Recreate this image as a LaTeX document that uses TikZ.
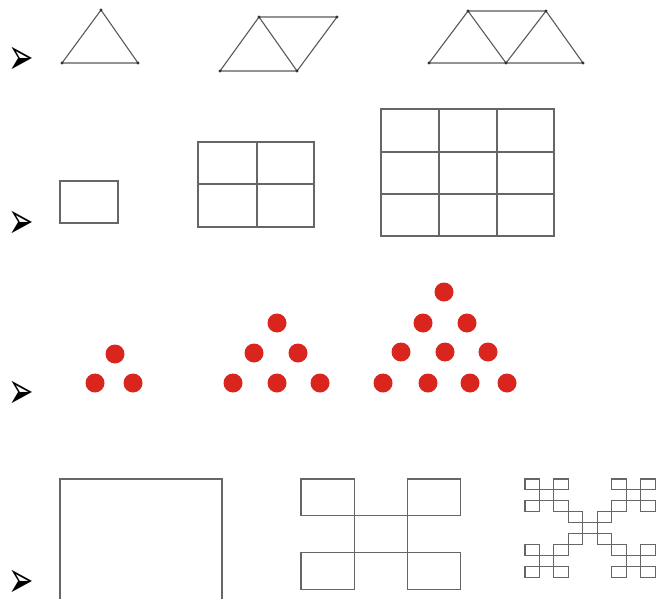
\documentclass[tikz,border=0pt]{standalone}
\usepackage{fontspec}
\newfontfamily\dingfont{DejaVu Sans}
\definecolor{dotred}{RGB}{217,37,30}
\tikzset{
  edge/.style={draw=black!65,line width=1.1pt},
  box/.style={draw=black!60,line width=1.1pt},
  vert/.style={fill=black!80},
  bullet/.style={inner sep=0pt,font=\dingfont\fontsize{32}{32}\selectfont}
}
\newcommand{\arrowmark}{\scalebox{0.95}[1.6]{➢}}

\begin{document}
\begin{tikzpicture}[x=1pt,y=-1pt]
\useasboundingbox (0,0) rectangle (658,599);
% bullets
\node[bullet] (b1) at (21,61) {\arrowmark};
\node[bullet] (b2) at (21,225) {\arrowmark};
\node[bullet] (b3) at (21,395) {\arrowmark};
\node[bullet] (b4) at (21,584) {\arrowmark};
% triangles
\coordinate (a1) at (62,63);  \coordinate (a2) at (101,10); \coordinate (a3) at (138,63);
\draw[edge] (a1) -- (a2) -- (a3) -- cycle;
\coordinate (p1) at (220,71); \coordinate (p2) at (259,17);
\coordinate (p3) at (297,71); \coordinate (p4) at (337,17);
\draw[edge] (p1) -- (p2) -- (p3) -- cycle (p2) -- (p4) -- (p3);
\coordinate (q1) at (429,63); \coordinate (q2) at (468,11); \coordinate (q3) at (506,63);
\coordinate (q4) at (546,11); \coordinate (q5) at (583,63);
\draw[edge] (q1) -- (q2) -- (q3) -- cycle (q2) -- (q4) -- (q3) (q4) -- (q5) -- (q3);
\foreach \v in {a1,a2,a3,p1,p2,p3,p4,q1,q2,q3,q4,q5}
  \fill[vert] (\v) circle (1.7);
% rectangles
\draw[box] (60,181) rectangle (118,223);
\draw[box] (198,142) rectangle (314,227) (257,142) -- (257,227) (198,184) -- (314,184);
\draw[box] (381,109) rectangle (554,236) (439,109) -- (439,236) (497,109) -- (497,236)
  (381,152) -- (554,152) (381,194) -- (554,194);
% dots
\foreach \x/\y in {115/354,95/383,133/383,
    277/323,254/353,298/353,233/383,277/383,320/383,
    444/292,423/323,467/323,401/352,445/352,488/352,383/383,428/383,470/383,507/383}
  \fill[dotred] (\x,\y) circle (9.5);
% squares
\draw[box] (60,599) -- (60,479) -- (222,479) -- (222,599);
\foreach \i/\j in {0/0,2/0,1/1,0/2,2/2}
  \draw[box] ({301+\i*53.3},{479+\j*36.7}) rectangle ++(53.3,36.7);
\foreach \I/\J in {0/0,2/0,1/1,0/2,2/2}
  \foreach \i/\j in {0/0,2/0,1/1,0/2,2/2}
    \draw[box] ({525+(3*\I+\i)*14.45},{479+(3*\J+\j)*10.9}) rectangle ++(14.45,10.9);
\end{tikzpicture}
\end{document}
